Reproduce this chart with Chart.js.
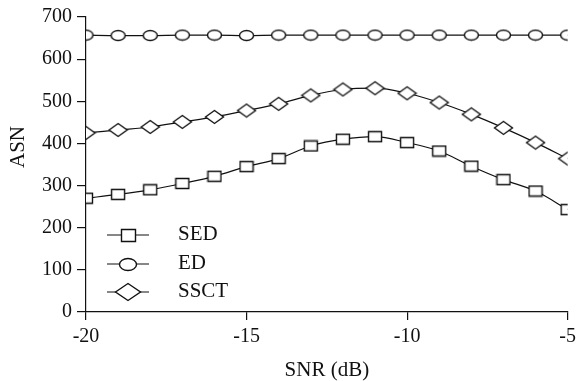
<!DOCTYPE html>
<html>
<head>
<meta charset="utf-8">
<script src="https://cdn.jsdelivr.net/npm/chart.js@4/dist/chart.umd.min.js"></script>
<style>
  html, body { margin: 0; padding: 0; background: #fff; }
  #wrap { width: 581px; height: 381px; }
  .probe { font-family: "Liberation Serif"; position: absolute; left: -999px; }
</style>
</head>
<body>
<span class="probe">ASN 0123456789</span>
<div id="wrap"><canvas id="c"></canvas></div>
<script>
// SNR values (dB)
const snr = [-20, -19, -18, -17, -16, -15, -14, -13, -12, -11, -10, -9, -8, -7, -6, -5];
const sed = [270, 279, 290, 305, 322, 345, 364, 394, 410, 416, 402, 382, 346, 314, 287, 243];
const ed = [657, 656, 656, 657, 657, 656, 657, 657, 657, 657, 657, 657, 657, 657, 657, 657];
const ssct = [425, 432, 439, 451, 463, 478, 494, 514, 528, 531, 519, 497, 469, 437, 402, 364];
const seriesNames = ["SED", "ED", "SSCT"];
const yTicks = [0, 100, 200, 300, 400, 500, 600, 700];
const xTicks = [-20, -15, -10, -5];

const ink = "#111";
const serif = "Liberation Serif";

// little marker images (the picture's markers are wider than tall)
function marker(kind, w, h) {
    const c = document.createElement("canvas");
    c.width = w + 3;
    c.height = h + 3;
    const g = c.getContext("2d");
    const cx = c.width / 2, cy = c.height / 2;
    g.fillStyle = "#fff";
    g.strokeStyle = ink;
    g.lineWidth = 1.4;
    g.beginPath();
    if (kind === "rect") {
        g.rect(cx - w / 2, cy - h / 2, w, h);
    } else if (kind === "ellipse") {
        g.ellipse(cx, cy, w / 2, h / 2, 0, 0, Math.PI * 2);
    } else {
        g.moveTo(cx - w / 2, cy);
        g.lineTo(cx, cy - h / 2);
        g.lineTo(cx + w / 2, cy);
        g.lineTo(cx, cy + h / 2);
        g.closePath();
    }
    g.fill();
    g.stroke();
    return c;
}

const pointImgs = [marker("rect", 13, 10), marker("ellipse", 14, 10), marker("diamond", 18, 13)];
const legendImgs = [marker("rect", 14, 12), marker("ellipse", 17, 12), marker("diamond", 25, 17)];

const toPts = (ys) => snr.map((x, i) => ({ x: x, y: ys[i] }));

// legend sits inside the plot, lower left; y title drawn by hand too
const extras = {
    id: "extras",
    afterDraw(chart) {
        const ctx = chart.ctx;
        const rows = [235, 264, 292];
        ctx.save();
        ctx.strokeStyle = ink;
        ctx.lineWidth = 1.2;
        ctx.fillStyle = ink;
        ctx.font = "21px " + serif;
        ctx.textBaseline = "middle";
        seriesNames.forEach((name, i) => {
            const y = rows[i];
            ctx.beginPath();
            ctx.moveTo(107, y);
            ctx.lineTo(149, y);
            ctx.stroke();
            const img = legendImgs[i];
            ctx.drawImage(img, Math.round(128 - img.width / 2), Math.round(y - img.height / 2));
            ctx.fillText(name, 178, y - 1);
        });
        ctx.translate(18, 147);
        ctx.rotate(-Math.PI / 2);
        ctx.textAlign = "center";
        ctx.fillText("ASN", 0, 0);
        ctx.restore();
    }
};

const ds = [sed, ed, ssct].map((ys, i) => ({
    label: seriesNames[i],
    data: toPts(ys),
    borderColor: ink,
    borderWidth: 1.2,
    pointStyle: pointImgs[i],
    pointRadius: 7,
    cubicInterpolationMode: "monotone",
    fill: false
}));

function draw() {
    new Chart(document.getElementById("c"), {
        type: "line",
        data: { datasets: ds },
        options: {
            responsive: true,
            maintainAspectRatio: false,
            animation: false,
            layout: { padding: { top: 16, right: 9, left: 0, bottom: 0 } },
            plugins: { legend: { display: false }, tooltip: { enabled: false } },
            scales: {
                x: {
                    type: "linear",
                    min: -20,
                    max: -5,
                    afterBuildTicks: (s) => { s.ticks = xTicks.map(v => ({ value: v })); },
                    afterFit: (s) => { s.height = 69; },
                    border: { color: ink, width: 1.2 },
                    grid: { drawOnChartArea: false, drawTicks: true, tickLength: 8, color: ink, lineWidth: 1.2 },
                    ticks: { color: ink, font: { family: serif, size: 20 }, padding: 5, maxRotation: 0 },
                    title: { display: true, text: "SNR (dB)", color: ink, font: { family: serif, size: 21, lineHeight: 1 }, padding: { top: 0, bottom: 0 } }
                },
                y: {
                    min: 0,
                    max: 700,
                    afterBuildTicks: (s) => { s.ticks = yTicks.map(v => ({ value: v })); },
                    afterFit: (s) => { s.width = 86; },
                    border: { color: ink, width: 1.2 },
                    grid: { drawOnChartArea: false, drawTicks: true, tickLength: 9, color: ink, lineWidth: 1.2 },
                    ticks: { color: ink, font: { family: serif, size: 20 }, padding: 5 }
                }
            }
        },
        plugins: [extras]
    });
}

if (document.fonts && document.fonts.load) {
    document.fonts.load("20px 'Liberation Serif'").then(draw, draw);
} else {
    draw();
}
</script>
</body>
</html>
